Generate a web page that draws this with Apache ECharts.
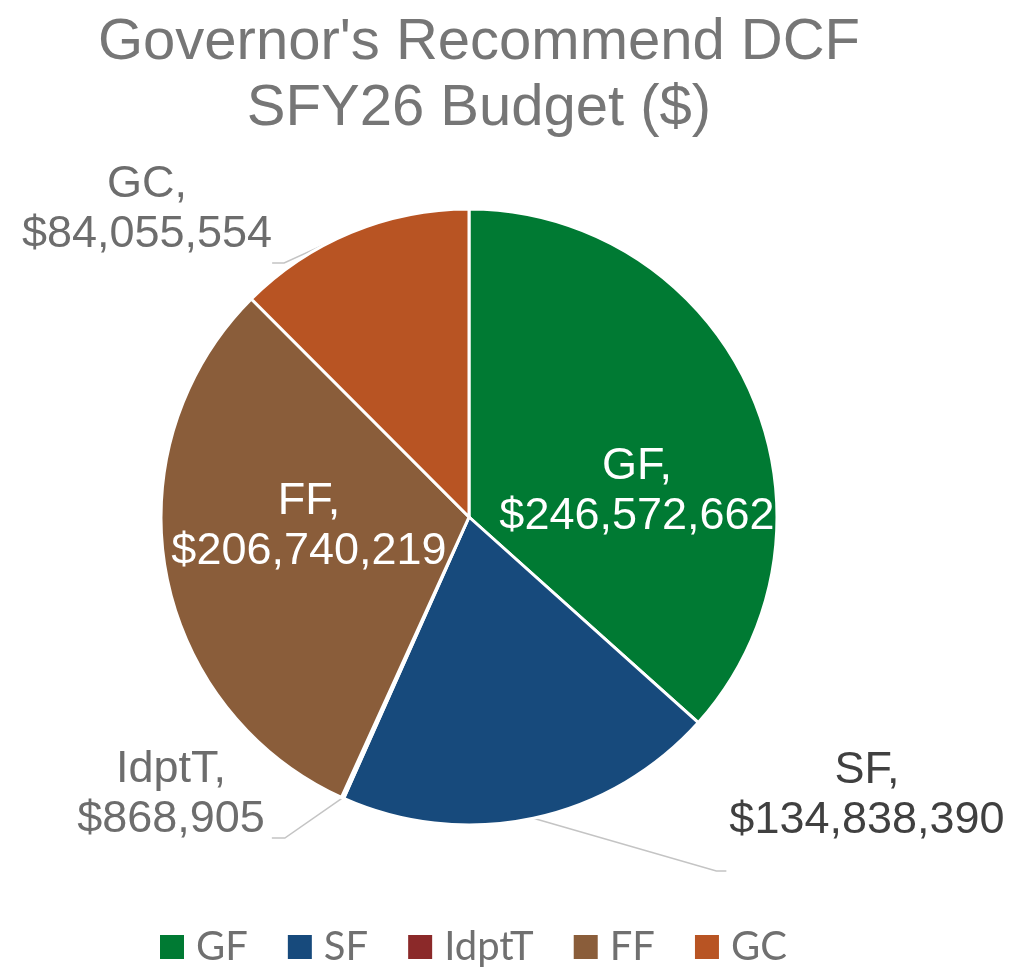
<!DOCTYPE html>
<html>
<head>
<meta charset="utf-8">
<title>Governor's Recommend DCF SFY26 Budget</title>
<script src="https://cdn.jsdelivr.net/npm/echarts@6/dist/echarts.min.js"></script>
<style>
  html, body { margin: 0; padding: 0; background: #fff; }
  #chart { width: 1027px; height: 969px; }
</style>
</head>
<body>
<div id="chart"></div>
<script>
const categories = ["GF", "SF", "IdptT", "FF", "GC"];
const amounts = [246572662, 134838390, 868905, 206740219, 84055554];
const sliceColors = ["#007a33", "#174a7c", "#8b2929", "#8a5d3a", "#b85423"];

// where each data label sits (text block centre x, top y) and how its box is padded
const labelSpots = {
  GF:    { x: 637,   y: 442, pad: [0, 0, 0, 0] },
  SF:    { x: 865.5, y: 746, pad: [0, 0, 150, 3] },
  IdptT: { x: 174.5, y: 745, pad: [0, 7, 86, 0] },
  FF:    { x: 309,   y: 477, pad: [0, 0, 0, 0] },
  GC:    { x: 147,   y: 160, pad: [0, 0, 106, 0] },
};
const labelColors = { GF: "#ffffff", SF: "#404040", IdptT: "#6d6d6d", FF: "#ffffff", GC: "#6d6d6d" };
const insideLabels = ["GF", "FF"];
const guideLen = { SF: 10, IdptT: 13, GC: 12 };

const chart = echarts.init(document.getElementById("chart"));

const pieData = categories.map((name, i) => {
  const inside = insideLabels.includes(name);
  return {
    name,
    value: amounts[i],
    itemStyle: { color: sliceColors[i] },
    label: {
      color: labelColors[name],
      padding: labelSpots[name].pad,
      backgroundColor: "rgba(255,255,255,0)",
    },
    labelLine: inside ? { show: false } : { show: true, length2: guideLen[name] },
  };
});

chart.setOption({
  animation: false,
  backgroundColor: "#ffffff",
  title: {
    text: "Governor's Recommend DCF\nSFY26 Budget ($)",
    left: 479,
    top: 10,
    padding: 0,
    textAlign: "center",
    textStyle: {
      fontFamily: "Liberation Sans",
      fontSize: 58,
      fontWeight: "normal",
      lineHeight: 66,
      color: "#767676",
    },
  },
  legend: {
    data: categories,
    left: 153,
    top: 922,
    icon: "rect",
    itemWidth: 26,
    itemHeight: 26,
    itemGap: 38,
    textStyle: {
      fontFamily: "Lato",
      fontSize: 40,
      color: "#707070",
      padding: [0, 0, 0, 6],
    },
  },
  series: [
    {
      name: "SFY26 Budget",
      type: "pie",
      center: [469, 517],
      radius: 308,
      startAngle: 90,
      clockwise: true,
      avoidLabelOverlap: false,
      itemStyle: { borderColor: "#ffffff", borderWidth: 3 },
      label: {
        show: true,
        position: "outside",
        fontFamily: "Liberation Sans",
        fontSize: 45,
        lineHeight: 50,
        align: "center",
        formatter: (p) => p.name + ",\n$" + p.value.toLocaleString("en-US"),
      },
      labelLine: {
        show: true,
        length: 20,
        length2: 12,
        smooth: false,
        lineStyle: { color: "#c4c4c4", width: 1.5 },
      },
      labelLayout: (params) => {
        const spot = labelSpots[categories[params.dataIndex]];
        return { x: spot.x, y: spot.y, align: "center", verticalAlign: "top" };
      },
      emphasis: { disabled: true },
      data: pieData,
    },
  ],
});
</script>
</body>
</html>
